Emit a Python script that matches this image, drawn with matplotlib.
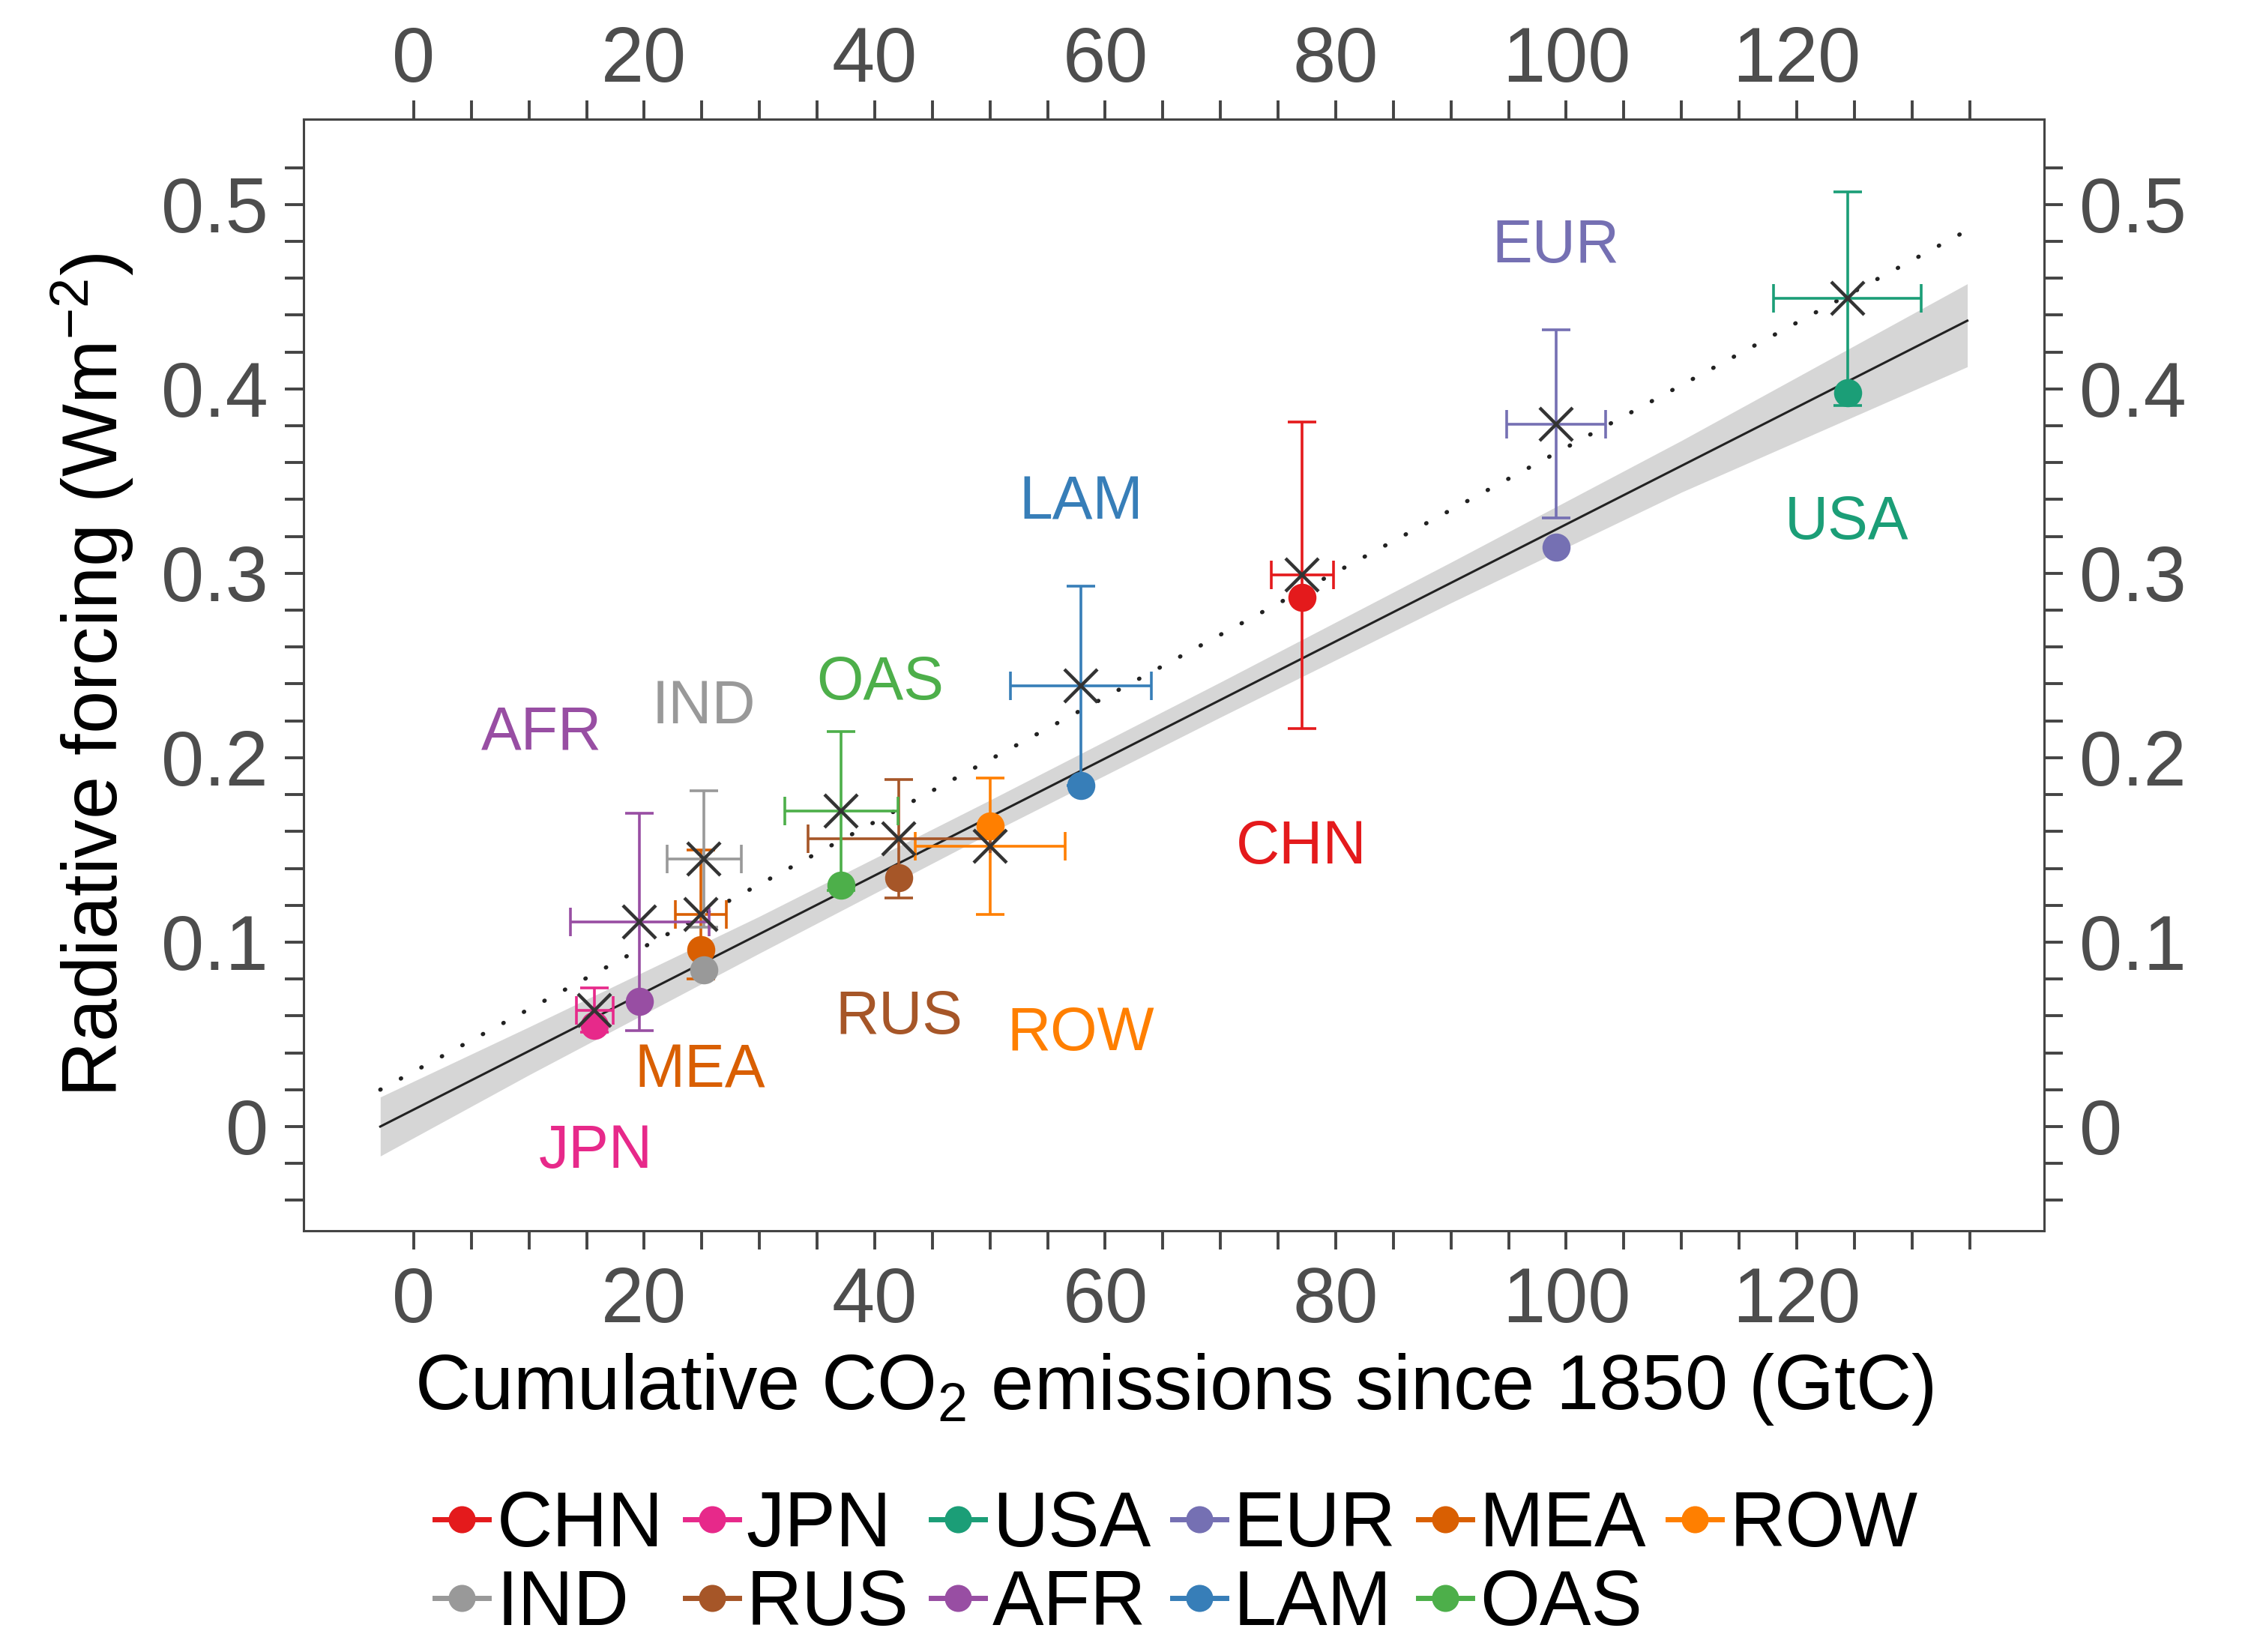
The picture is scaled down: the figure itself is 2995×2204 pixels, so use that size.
import numpy as np
import matplotlib.pyplot as plt
from matplotlib.lines import Line2D
from matplotlib.ticker import FixedLocator, FuncFormatter

plt.rcParams["font.family"] = ["Liberation Sans", "DejaVu Sans"]
plt.rcParams["mathtext.fontset"] = "custom"
plt.rcParams["mathtext.rm"] = "Liberation Sans"
plt.rcParams["mathtext.it"] = "Liberation Sans:italic"
plt.rcParams["mathtext.default"] = "regular"

# regions, in legend order
regions = ["CHN", "JPN", "USA", "EUR", "MEA", "ROW", "IND", "RUS", "AFR", "LAM", "OAS"]
colors = ["#e41a1c", "#e7298a", "#1b9e77", "#7570b3", "#d95f02", "#ff7f00",
          "#999999", "#a65628", "#984ea3", "#377eb8", "#4daf4a"]

# cumulative emissions (GtC) and uncertainty
emissions = [77.1, 15.7, 124.4, 99.1, 24.9, 50.0, 25.2, 42.1, 19.6, 57.9, 37.1]
emissions_err = [2.7, 1.6, 6.4, 4.3, 2.2, 6.5, 3.2, 7.9, 6.0, 6.1, 4.9]
# radiative forcing: dots and crosses (with error bars on crosses)
forcing_dot = [0.287, 0.055, 0.398, 0.314, 0.096, 0.163, 0.085, 0.135, 0.068, 0.185, 0.131]
forcing_cross = [0.299, 0.063, 0.449, 0.381, 0.115, 0.152, 0.145, 0.156, 0.111, 0.239, 0.171]
forcing_err = [0.083, 0.012, 0.058, 0.051, 0.035, 0.037, 0.037, 0.032, 0.059, 0.054, 0.043]

# text label positions for each region
label_x = [77.0, 15.8, 124.3, 99.1, 24.8, 57.9, 25.2, 42.1, 11.1, 57.9, 40.5]
label_y = [0.151, -0.014, 0.327, 0.477, 0.030, 0.050, 0.227, 0.059, 0.213, 0.338, 0.240]

# regression lines and confidence band
fit_x = [-2.9, 134.8]
fit_y = [0.0, 0.437]
fit_dotted_y = [0.020, 0.486]
band_x = [-2.9, 10, 30, 50, 70, 90, 110, 134.8]
band_lo = [-0.016, 0.028, 0.094, 0.159, 0.222, 0.284, 0.344, 0.412]
band_hi = [0.016, 0.054, 0.114, 0.177, 0.241, 0.306, 0.372, 0.457]

fig = plt.figure(figsize=(14.975, 11.02), dpi=200)
ax = fig.add_axes([0.1352, 0.255, 0.7753, 0.6729])

ax.fill_between(band_x, band_lo, band_hi, color="#d6d6d6", lw=0, zorder=1)
ax.plot(fit_x, fit_y, color="#222222", lw=1.1, zorder=2)
ax.plot(fit_x, fit_dotted_y, color="#222222", lw=2.0,
        linestyle=(0, (0.1, 5.5)), dash_capstyle="round", zorder=2)

for i, reg in enumerate(regions):
    c = colors[i]
    ax.errorbar(emissions[i], forcing_cross[i], xerr=emissions_err[i], yerr=forcing_err[i],
                fmt="none", ecolor=c, elinewidth=1.3, capsize=6.8, capthick=1.3, zorder=3)
    ax.plot(emissions[i], forcing_dot[i], "o", color=c, ms=13.5, mew=0, zorder=4)
    ax.plot(emissions[i], forcing_cross[i], "x", color="#333333", ms=16, mew=1.6, zorder=5)
    ax.text(label_x[i], label_y[i], reg, color=c, fontsize=29, ha="center", va="center")

ax.set_xlim(-9.56, 141.46)
ax.set_ylim(-0.0565, 0.5463)

xmajor = np.arange(0, 121, 20)
xminor = np.arange(0, 136, 5)
ax.xaxis.set_major_locator(FixedLocator(xmajor))
ax.xaxis.set_minor_locator(FixedLocator(xminor))
ax.yaxis.set_major_locator(FixedLocator(np.round(np.arange(0, 0.51, 0.1), 2)))
ax.yaxis.set_minor_locator(FixedLocator(np.round(np.arange(-0.04, 0.521, 0.02), 2)))
ax.yaxis.set_major_formatter(FuncFormatter(lambda v, p: "0" if abs(v) < 1e-9 else f"{v:.1f}"))

tick_style = dict(which="both", direction="out", length=9, width=1.4, color="#444444",
                  labelsize=37, labelcolor="#4d4d4d")
ax.tick_params(**tick_style, right=True, labelright=True, top=False, labeltop=False, pad=8)

# top axis with its own (smaller) label pad
secax = ax.secondary_xaxis("top")
secax.xaxis.set_major_locator(FixedLocator(xmajor))
secax.xaxis.set_minor_locator(FixedLocator(xminor))
secax.tick_params(**tick_style, pad=1)

for sp in list(ax.spines.values()) + list(secax.spines.values()):
    sp.set_color("#444444")
    sp.set_linewidth(1.1)

ax.set_xlabel(r"Cumulative CO$_2$ emissions since 1850 (GtC)", fontsize=37, labelpad=6)
ax.set_ylabel(r"Radiative forcing (Wm$^{-2}$)", fontsize=37, labelpad=12)

# legend: two rows, filled row by row
order = [0, 6, 1, 7, 2, 8, 3, 9, 4, 10, 5]
handles = [Line2D([0], [0], color=colors[i], marker="o", ms=12, lw=2.5) for i in order]
labels = [regions[i] for i in order]
fig.legend(handles, labels, ncol=6, loc="lower center", bbox_to_anchor=(0.524, -0.017),
           frameon=False, fontsize=37, handlelength=0.7, handletextpad=0.1,
           columnspacing=0.28, labelspacing=0.08, borderpad=0.0)

fig.savefig("out.png", dpi=200)
